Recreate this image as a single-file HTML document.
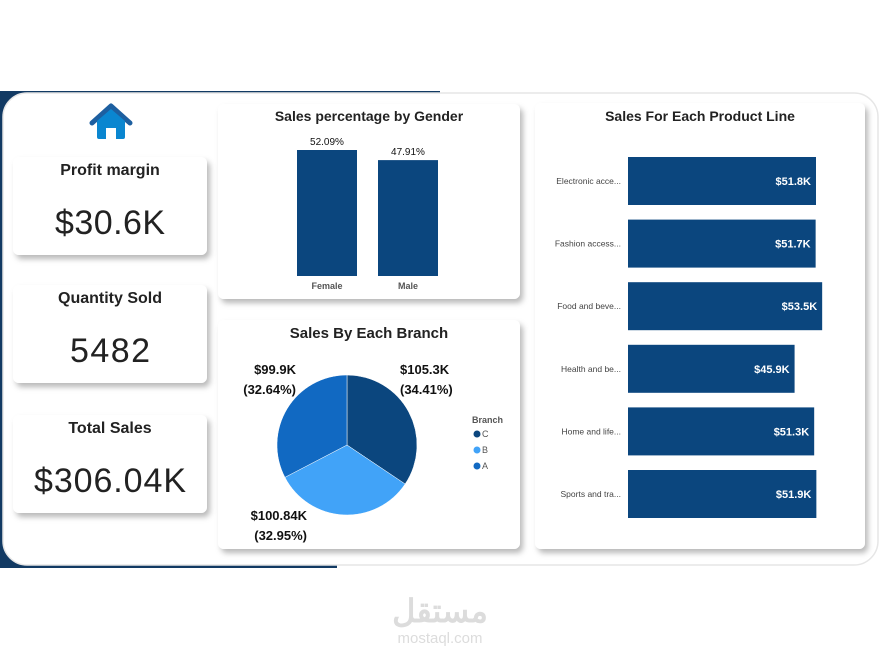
<!DOCTYPE html>
<html><head><meta charset="utf-8"><style>
body{margin:0;background:#fff;width:882px;height:661px;overflow:hidden;font-family:"Liberation Sans",sans-serif}
svg text{font-family:"Liberation Sans",sans-serif}
</style></head><body>
<svg id="s" width="882" height="661" viewBox="0 0 882 661" xmlns="http://www.w3.org/2000/svg">
<defs>
<filter id="sh" x="-10%" y="-10%" width="125%" height="130%"><feDropShadow dx="3" dy="4" stdDeviation="3" flood-color="#000" flood-opacity="0.28"/></filter>
</defs>
<path d="M0 91 H440 V100 H0 Z M0 91 H12 V568 H0 Z M0 556 H337 V568 H0 Z" fill="#123a63"/>
<rect x="3" y="93" width="875" height="472" rx="24" fill="#fff" stroke="#e6e6e6" stroke-width="1.5"/>
<g>
<path d="M92 123 L111 106 L130 123" fill="none" stroke="#1d5fa0" stroke-width="5" stroke-linecap="round" stroke-linejoin="round"/>
<path d="M97 121 L111 109 L125 121 V137 Q125 139 123 139 H116 V128 H106 V139 H99 Q97 139 97 137 Z" fill="#0a86d0"/>
</g>
<g filter="url(#sh)">
<rect x="13" y="157" width="194" height="98" rx="6" fill="#fff"/>
<rect x="13" y="285" width="194" height="98" rx="6" fill="#fff"/>
<rect x="13" y="415" width="194" height="98" rx="6" fill="#fff"/>
<rect x="218" y="104" width="302" height="195" rx="6" fill="#fff"/>
<rect x="218" y="320" width="302" height="229" rx="6" fill="#fff"/>
<rect x="535" y="103" width="330" height="446" rx="6" fill="#fff"/>
</g>
<text x="110" y="175" text-anchor="middle" font-size="16" font-weight="bold" fill="#222">Profit margin</text>
<text x="110" y="234" text-anchor="middle" font-size="34" fill="#222" textLength="110">$30.6K</text>
<text x="110" y="303" text-anchor="middle" font-size="16" font-weight="bold" fill="#222">Quantity Sold</text>
<text x="110" y="362" text-anchor="middle" font-size="34" fill="#222" textLength="80">5482</text>
<text x="110" y="433" text-anchor="middle" font-size="16" font-weight="bold" fill="#222">Total Sales</text>
<text x="110" y="492" text-anchor="middle" font-size="34" fill="#222" textLength="152">$306.04K</text>
<text x="369" y="121" text-anchor="middle" font-size="14" font-weight="bold" fill="#222">Sales percentage by Gender</text>
<text x="369" y="338" text-anchor="middle" font-size="15" font-weight="bold" fill="#222">Sales By Each Branch</text>
<text x="700" y="121" text-anchor="middle" font-size="14" font-weight="bold" fill="#222">Sales For Each Product Line</text>
<g id="gender"></g><g id="pie"></g><g id="prod"></g>
<text x="472" y="423" font-size="9" font-weight="bold" fill="#555">Branch</text>
<g fill="#dcdcdc" text-anchor="middle">
<text x="440" y="622" font-size="32" font-weight="bold" font-family="'DejaVu Sans',sans-serif">مستقل</text>
<text x="440" y="643" font-size="15">mostaql.com</text>
</g>
</svg>
<script>
const NS="http://www.w3.org/2000/svg";
const genderCats=["Female","Male"];
const genderVals=[52.09,47.91];
const genderLabels=["52.09%","47.91%"];
const branchCats=["C","B","A"];
const branchVals=[105.3,100.84,99.9];
const branchLabels=["$105.3K","$100.84K","$99.9K"];
const branchPct=["(34.41%)","(32.95%)","(32.64%)"];
const branchColors=["#0b467e","#41a3f8","#1169c2"];
const prodCats=["Electronic acce...","Fashion access...","Food and beve...","Health and be...","Home and life...","Sports and tra..."];
const prodVals=[51.8,51.7,53.5,45.9,51.3,51.9];
const prodLabels=["$51.8K","$51.7K","$53.5K","$45.9K","$51.3K","$51.9K"];
function mk(t,a,p,txt){const e=document.createElementNS(NS,t);for(const k in a)e.setAttribute(k,a[k]);if(txt!==undefined)e.textContent=txt;p.appendChild(e);return e;}
const g=document.getElementById('gender');
const gBase=276,gScale=126/52.09;
const gx=i=>297+i*81;
genderVals.forEach((v,i)=>{
 const h=v*gScale;
 const r=mk('rect',{x:gx(i),y:gBase-h,width:60,height:h,fill:'#0b467e'},g);
 
 
 const t=mk('text',{x:gx(i)+30,y:gBase-h-5,'text-anchor':'middle','font-size':10,fill:'#111'},g,genderLabels[i]);
 
 
 const c=mk('text',{x:gx(i)+30,y:289,'text-anchor':'middle','font-size':9,'font-weight':'bold',fill:'#555'},g,genderCats[i]);
 
 
});
const p=document.getElementById('pie');
const cx=347,cy=445,R=70;
const tot=branchVals.reduce((a,b)=>a+b,0);
let ang=0;
const labelPos=[[400,374,'start'],[307,520,'end'],[296,374,'end']];
branchVals.forEach((v,i)=>{
 const a0=ang,a1=ang+v/tot*2*Math.PI;ang=a1;
 const x0=cx+R*Math.sin(a0),y0=cy-R*Math.cos(a0),x1=cx+R*Math.sin(a1),y1=cy-R*Math.cos(a1);
 const s=mk('path',{d:`M${cx} ${cy} L${x0} ${y0} A${R} ${R} 0 ${a1-a0>Math.PI?1:0} 1 ${x1} ${y1} Z`,fill:branchColors[i],stroke:'#fff','stroke-width':0.5},p);
 
 
 const [lx,ly,an]=labelPos[i];
 const t1=mk('text',{x:lx,y:ly,'text-anchor':an,'font-size':13,'font-weight':'bold',fill:'#111'},p,branchLabels[i]);
 
 
 const t2=mk('text',{x:lx,y:ly+20,'text-anchor':an,'font-size':13,'font-weight':'bold',fill:'#111'},p,branchPct[i]);
 
 
 const d=mk('circle',{cx:477,cy:434+i*16,r:3.5,fill:branchColors[i]},p);
 
 
 const lt=mk('text',{x:482,y:437+i*16,'font-size':9,fill:'#555'},p,branchCats[i]);
 
 
});
const pr=document.getElementById('prod');
const px0=628,pScale=188/51.8,pTop=157,pStep=62.6,pH=48;
prodVals.forEach((v,i)=>{
 const y=pTop+i*pStep,w=v*pScale;
 const r=mk('rect',{x:px0,y:y,width:w,height:pH,fill:'#0b467e'},pr);
 
 
 const t=mk('text',{x:px0+w-5,y:y+pH/2+4,'text-anchor':'end','font-size':11,'font-weight':'bold',fill:'#fff'},pr,prodLabels[i]);
 
 
 const c=mk('text',{x:621,y:y+pH/2+3,'text-anchor':'end','font-size':8.5,fill:'#444'},pr,prodCats[i]);
 
 
});
</script>
</body></html>
